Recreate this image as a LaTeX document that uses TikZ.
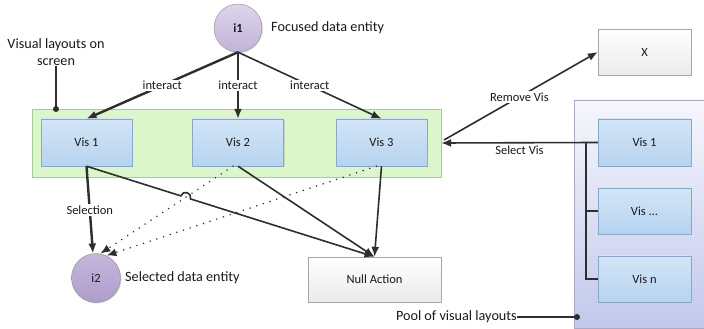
\documentclass[tikz,border=0pt]{standalone}
\usepackage{fontspec}
\setmainfont{Carlito}
\usetikzlibrary{arrows.meta,calc,shadows}
\definecolor{txt}{HTML}{1A1A1A}
\definecolor{ln}{HTML}{2E2E2E}
\definecolor{visT}{HTML}{D3E5F7}
\definecolor{visB}{HTML}{B6D3EF}
\definecolor{visD}{HTML}{88A8C8}
\definecolor{grF}{HTML}{DBF6CB}
\definecolor{grD}{HTML}{A6CE94}
\definecolor{ciT}{HTML}{DDD5EB}
\definecolor{ciB}{HTML}{C2B3DA}
\definecolor{ciD}{HTML}{8C8C8C}
\definecolor{c2T}{HTML}{C6B7DC}
\definecolor{c2B}{HTML}{AE9CCA}
\definecolor{wbD}{HTML}{A6A6A6}
\definecolor{poT}{HTML}{F6F7FC}
\definecolor{poB}{HTML}{C2C8EC}
\definecolor{poD}{HTML}{A9ABC2}
\tikzset{
  visbox/.style={draw=visD, top color=visT, bottom color=visB, minimum width=91pt, minimum height=47pt, inner sep=0pt, font=\fontsize{12.5}{14}\selectfont, text=txt, drop shadow={shadow xshift=1pt, shadow yshift=-1pt, opacity=0.25}},
  whitebox/.style={draw=wbD, top color=white, bottom color=black!8, minimum width=93pt, minimum height=46pt, inner sep=0pt, font=\fontsize{12.5}{14}\selectfont, text=txt, drop shadow={shadow xshift=1pt, shadow yshift=-1pt, opacity=0.25}},
  entity/.style={circle, draw=ciD, minimum size=48pt, inner sep=0pt, font=\fontsize{12.5}{14}\selectfont, text=txt, drop shadow={shadow xshift=1pt, shadow yshift=-1pt, opacity=0.25}},
  caption/.style={font=\fontsize{14.2}{17}\selectfont, text=txt, inner sep=0pt},
  lbl/.style={font=\fontsize{12.5}{14}\selectfont, text=txt, fill=white, inner sep=1.5pt},
  conn/.style={draw=ln, line width=1.6pt, -{Latex[length=10pt,width=8pt]}},
  connthick/.style={draw=ln, line width=2.4pt, -{Latex[length=10pt,width=8pt]}},
  dotconn/.style={draw=ln, line width=1.7pt, dash pattern=on 0.01pt off 7pt, line cap=round, -{Latex[length=10pt,width=8pt]}},
  plain/.style={draw=ln, line width=1.6pt},
  pin/.style={circle, fill=ln, inner sep=0pt, minimum size=6pt},
}
\begin{document}
\begin{tikzpicture}[x=1pt,y=1pt]
\useasboundingbox (0,0) rectangle (704,329);
\fill[white] (0,0) rectangle (704,329);

% containers
\node[draw=grD, fill=grF, minimum width=409pt, minimum height=68pt, inner sep=0pt, drop shadow={shadow xshift=1pt, shadow yshift=-1pt, opacity=0.2}] (green) at (236.5,186) {};
\node[draw=poD, top color=poT, bottom color=poB, minimum width=132pt, minimum height=228pt, inner sep=0pt, anchor=south west] (pool) at (574,1) {};

% boxes
\node[visbox] (v1) at (86.5,186.5) {Vis 1};
\node[visbox] (v2) at (238,186.5) {Vis 2};
\node[visbox] (v3) at (381.5,186.5) {Vis 3};
\node[whitebox, minimum width=133pt, minimum height=45pt] (null) at (374.5,49.5) {Null Action};
\node[whitebox] (xb) at (644.5,277) {X};
\node[visbox, minimum width=93pt] (p1) at (644.5,186.5) {Vis 1};
\node[visbox, minimum width=93pt, minimum height=46pt] (pm) at (644.5,118) {Vis ...};
\node[visbox, minimum width=93pt, minimum height=46pt] (pn) at (644.5,50) {Vis n};

% entities
\node[entity, top color=ciT, bottom color=ciB, font=\fontsize{12.5}{14}\selectfont\bfseries] (i1) at (238,301) {i1};
\node[entity, top color=c2T, bottom color=c2B, minimum size=49pt] (i2) at (96,51) {i2};

% captions
\node[caption, anchor=west] (cap1) at (271,301) {Focused data entity};
\node[caption, anchor=west] (cap2) at (125,51) {Selected data entity};
\node[caption, align=center] (cap3) at (56,277) {Visual layouts on\\screen};
\node[caption, anchor=east] (cap4) at (517,12) {Pool of visual layouts};
\node[pin] (dot1) at (56,220) {};
\node[pin] (dot2) at (577,12) {};
\draw[plain, line width=1.2pt] (cap3.south) -- (dot1.center);
\draw[plain, line width=1.2pt] (cap4.east) -- (dot2.center);

% interact
\draw[connthick] (i1.south) -- node[lbl, pos=0.5] {interact} (v1.north);
\draw[conn] (i1.south) -- node[lbl, pos=0.5] {interact} (v2.north);
\draw[conn] (i1.south) -- node[lbl, pos=0.5] {interact} (v3.north);

% selection
\draw[connthick] (v1.south) -- node[lbl, pos=0.5] {Selection} (i2.97);

% dotted
\draw[dotconn] ($(v2.south)+(-5,0)$) -- (i2.80);
\draw[dotconn] ($(v3.south)+(-5,0)$) -- (i2.65);

% to null action
\path (v1.south) -- (null.north) coordinate[pos=0.3278] (hA);
\draw[conn] (v1.south) -- (hA) arc[start angle=162.47, end angle=-17.53, radius=5] -- (null.north);
\draw[conn] (v2.south) -- (null.north);
\draw[conn] (v3.south) -- (null.north);

% pool tree
\coordinate (tr) at (586,186.5);
\draw[conn] (p1.west) -- node[lbl, fill=none, below=1pt, pos=0.5] {Select Vis} (green.east);
\draw[plain] (tr) |- (pn.west);
\draw[plain] (tr |- pm.west) -- (pm.west);
\coordinate (rs) at (444,189);
\draw[conn] (rs) -- node[lbl, pos=0.49] {Remove Vis} (xb.west);
\end{tikzpicture}
\end{document}
